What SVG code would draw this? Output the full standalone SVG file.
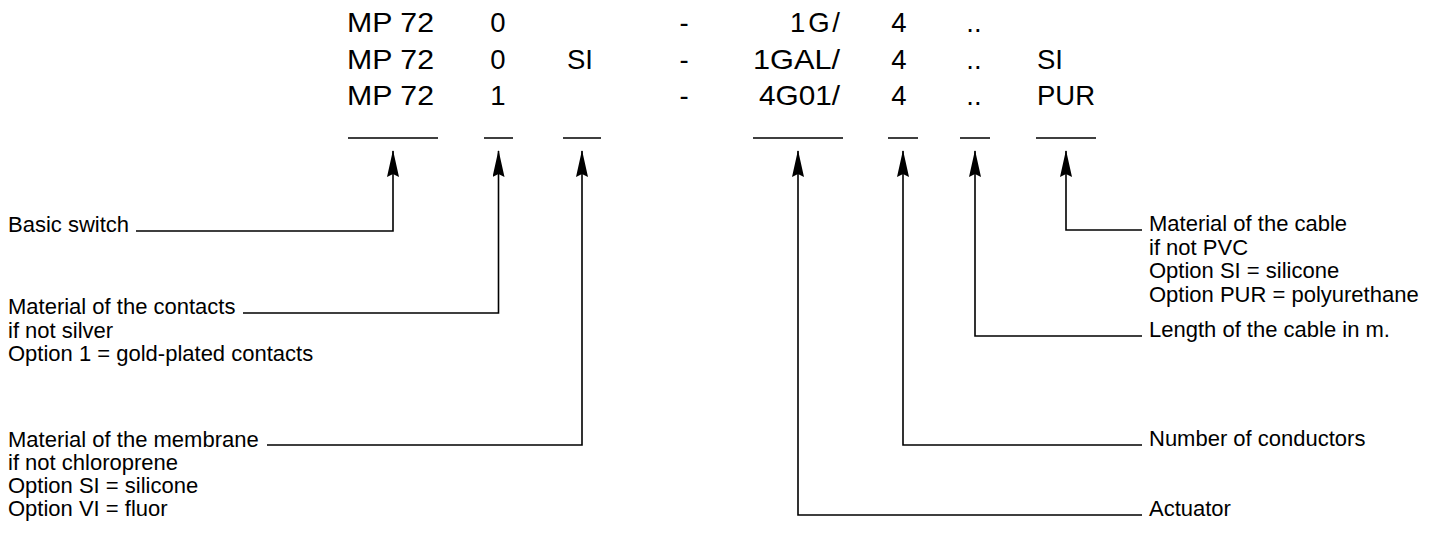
<svg xmlns="http://www.w3.org/2000/svg" width="1434" height="533" viewBox="0 0 1434 533">
<style>
.code{font-family:"Liberation Sans",Arial,sans-serif;font-size:27.5px;fill:#000}
.lbl{font-family:"Liberation Sans",Arial,sans-serif;font-size:22px;fill:#000}
.ul{stroke:#000;stroke-width:1.6;fill:none}
.con{stroke:#000;stroke-width:1.6;fill:none;marker-end:url(#ah)}
</style>
<defs>
<marker id="ah" viewBox="0 0 27 12" refX="26" refY="6" markerWidth="27" markerHeight="12" markerUnits="userSpaceOnUse" orient="auto">
<path d="M0,0 L27,6 L0,12 L3,6 Z" fill="#000"/>
</marker>
</defs>
<rect width="1434" height="533" fill="#fff"/>
<g id="code">
<text class="code" x="347" y="32" textLength="87" lengthAdjust="spacingAndGlyphs">MP 72</text>
<text class="code" x="347" y="69" textLength="87" lengthAdjust="spacingAndGlyphs">MP 72</text>
<text class="code" x="347" y="105" textLength="87" lengthAdjust="spacingAndGlyphs">MP 72</text>
<text class="code" x="498" y="32" text-anchor="middle">0</text>
<text class="code" x="498" y="69" text-anchor="middle">0</text>
<text class="code" x="498" y="105" text-anchor="middle">1</text>
<text class="code" x="567" y="69">SI</text>
<text class="code" x="684" y="32" text-anchor="middle">-</text>
<text class="code" x="684" y="69" text-anchor="middle">-</text>
<text class="code" x="684" y="105" text-anchor="middle">-</text>
<text class="code" x="790" y="32" textLength="50" lengthAdjust="spacing">1G/</text>
<text class="code" x="753" y="69" textLength="87" lengthAdjust="spacingAndGlyphs">1GAL/</text>
<text class="code" x="759" y="105" textLength="81" lengthAdjust="spacingAndGlyphs">4G01/</text>
<text class="code" x="899" y="32" text-anchor="middle">4</text>
<text class="code" x="899" y="69" text-anchor="middle">4</text>
<text class="code" x="899" y="105" text-anchor="middle">4</text>
<text class="code" x="974" y="32" text-anchor="middle">..</text>
<text class="code" x="974" y="69" text-anchor="middle">..</text>
<text class="code" x="974" y="105" text-anchor="middle">..</text>
<text class="code" x="1037" y="69">SI</text>
<text class="code" x="1037" y="105">PUR</text>
<path class="ul" d="M348,138H438M484,138H513M563,138H601M753,138H843M888,138H918M960,138H990M1036,138H1096"/>
</g>
<g id="n-basic"><text class="lbl" x="8" y="232">Basic switch</text></g>
<g id="n-contacts"><text class="lbl" x="8" y="314">Material of the contacts</text><text class="lbl" x="8" y="337.5">if not silver</text><text class="lbl" x="8" y="361">Option 1 = gold-plated contacts</text></g>
<g id="n-membrane"><text class="lbl" x="8" y="447">Material of the membrane</text><text class="lbl" x="8" y="470">if not chloroprene</text><text class="lbl" x="8" y="493">Option SI = silicone</text><text class="lbl" x="8" y="516">Option VI = fluor</text></g>
<g id="n-cablemat"><text class="lbl" x="1149" y="231">Material of the cable</text><text class="lbl" x="1149" y="254.5">if not PVC</text><text class="lbl" x="1149" y="278">Option SI = silicone</text><text class="lbl" x="1149" y="301.5">Option PUR = polyurethane</text></g>
<g id="n-length"><text class="lbl" x="1149" y="337">Length of the cable in m.</text></g>
<g id="n-conductors"><text class="lbl" x="1149" y="446">Number of conductors</text></g>
<g id="n-actuator"><text class="lbl" x="1149" y="516">Actuator</text></g>
<g id="connectors">
<path class="con" d="M136,231H393V151"/>
<path class="con" d="M243,313H498.5V151"/>
<path class="con" d="M267,445H582V151"/>
<path class="con" d="M1142,230H1066V151"/>
<path class="con" d="M1142,336H975V151"/>
<path class="con" d="M1142,445H903V151"/>
<path class="con" d="M1142,515H798V151"/>
</g>
</svg>
